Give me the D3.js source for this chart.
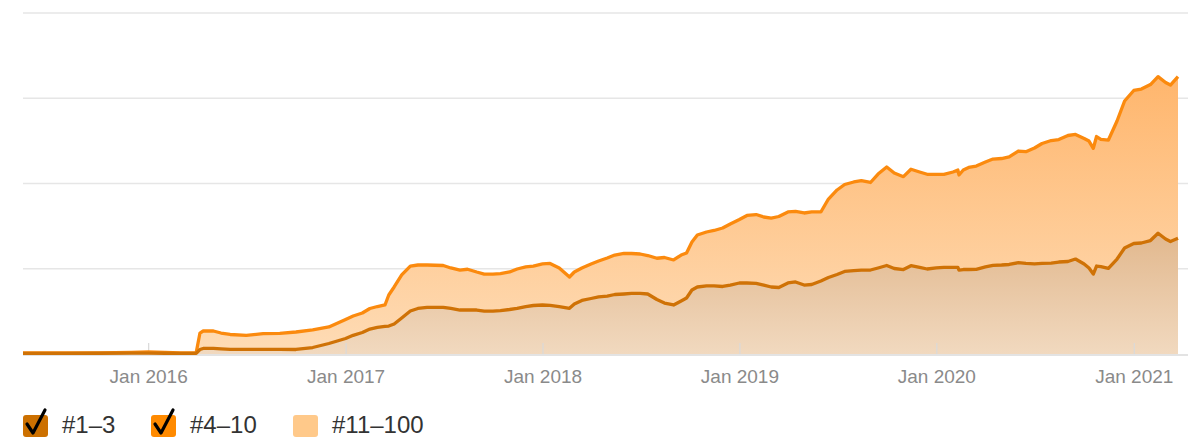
<!DOCTYPE html>
<html><head><meta charset="utf-8">
<script src="https://cdn.jsdelivr.net/npm/d3@7"></script>
<style>
body{margin:0;background:#fff;}
svg{display:block;font-family:"Liberation Sans",Arial,Helvetica,sans-serif;}
</style>
</head><body>
<svg id="c" width="1188" height="447"></svg>
<script>
// ---- data ----
const dates = [
"2015-05-14","2015-06-15","2015-08-01","2015-10-01","2015-12-01","2016-01-01","2016-02-01","2016-03-01","2016-03-30","2016-04-06",
"2016-04-12","2016-05-01","2016-05-15","2016-06-01","2016-07-01","2016-08-01","2016-09-01","2016-10-01","2016-11-01","2016-12-01",
"2017-01-01","2017-01-15","2017-02-01","2017-02-15","2017-03-01","2017-03-15","2017-03-22","2017-04-01","2017-04-15","2017-05-01",
"2017-05-15","2017-06-01","2017-07-01","2017-07-15","2017-08-01","2017-08-15","2017-09-01","2017-09-15","2017-10-01","2017-10-15",
"2017-11-01","2017-11-15","2017-12-01","2017-12-15","2018-01-01","2018-01-15","2018-02-01","2018-02-20","2018-03-01","2018-03-15",
"2018-04-01","2018-04-15","2018-05-01","2018-05-15","2018-06-01","2018-06-15","2018-07-01","2018-07-15","2018-08-01","2018-08-15",
"2018-09-01","2018-09-15","2018-09-25","2018-10-05","2018-10-15","2018-11-01","2018-11-15","2018-12-01","2018-12-15","2019-01-01",
"2019-01-15","2019-02-01","2019-02-15","2019-03-01","2019-03-15","2019-04-01","2019-04-15","2019-05-01","2019-05-15","2019-06-01",
"2019-06-15","2019-07-01","2019-07-15","2019-08-01","2019-08-15","2019-09-01","2019-09-15","2019-10-01","2019-10-15","2019-11-01",
"2019-11-15","2019-12-01","2019-12-15","2020-01-01","2020-01-15","2020-02-01","2020-02-10","2020-02-12","2020-02-20","2020-03-01",
"2020-03-15","2020-04-01","2020-04-15","2020-05-01","2020-05-15","2020-06-01","2020-06-15","2020-07-01","2020-07-15","2020-08-01",
"2020-08-15","2020-09-01","2020-09-15","2020-10-01","2020-10-10","2020-10-18","2020-10-24","2020-11-01","2020-11-15","2020-12-01",
"2020-12-15","2021-01-01","2021-01-15","2021-02-01","2021-02-15","2021-03-01","2021-03-10","2021-03-24"
];
// keywords ranking #1–3
const top3 = [
8,8,8,9,10,10,9,8,8,53,
65,67,61,55,55,55,55,53,76,123,
182,219,252,293,313,325,328,352,422,504,
534,548,548,534,516,516,516,504,504,510,
522,534,557,569,575,571,555,536,586,628,
651,669,680,698,704,710,712,704,639,598,
575,622,657,751,786,798,798,792,809,833,
833,829,809,786,780,833,845,809,815,856,
897,933,968,979,985,985,1009,1038,1003,991,
1036,1015,997,1009,1017,1017,1017,985,991,991,
993,1021,1040,1044,1050,1071,1062,1056,1062,1067,
1079,1085,1114,1056,1009,938,1032,1026,1005,1114,
1243,1296,1302,1331,1416,1349,1320,1357
];
// keywords ranking #4–10
const top4to10 = [
4,4,5,5,10,15,11,6,6,193,
205,203,185,174,164,183,188,205,206,194,
223,227,229,241,244,250,364,434,505,528,
510,496,490,475,469,478,446,434,434,434,
440,463,464,463,481,491,454,367,376,381,
405,422,446,463,477,469,461,451,484,534,
528,539,528,563,610,633,651,686,716,745,
792,807,798,809,833,833,827,845,851,810,
921,991,1020,1039,1048,1027,1102,1155,1120,1089,
1131,1120,1111,1099,1091,1118,1141,1115,1167,1197,
1212,1231,1247,1249,1261,1310,1311,1360,1407,1437,
1437,1478,1461,1472,1489,1475,1519,1492,1505,1619,
1725,1795,1806,1830,1837,1836,1835,1896
];
const yTicks = [0, 1000, 2000, 3000, 4000];
const xTickDates = ["2016-01-01","2017-01-01","2018-01-01","2019-01-01","2020-01-01","2021-01-01"];
const legendLabels = ["#1–3", "#4–10", "#11–100"];
const legendChecked = [true, true, false];

// ---- drawing ----
const W = 1188, H = 447;
const svg = d3.select("#c");
const parse = d3.timeParse("%Y-%m-%d");
const rows = dates.map((d, i) => ({date: parse(d), top3: top3[i], top4to10: top4to10[i]}));

const x = d3.scaleTime().domain([rows[0].date, rows[rows.length - 1].date]).range([23, 1178]);
const y = d3.scaleLinear().domain([0, 4000]).range([354, 13]);

const defs = svg.append("defs");
function grad(id, c0, c1) {
  const g = defs.append("linearGradient").attr("id", id)
    .attr("gradientUnits", "userSpaceOnUse").attr("x1", 0).attr("x2", 0)
    .attr("y1", y(4000)).attr("y2", y(0));
  g.append("stop").attr("offset", 0).attr("stop-color", c0);
  g.append("stop").attr("offset", 1).attr("stop-color", c1);
}
grad("gBand", "#ffad5c", "#fedcb6");
grad("gLow", "#c67c34", "#f1d9bf");

// grid lines
svg.append("g").selectAll("line").data(yTicks.filter(t => t > 0)).join("line")
  .attr("x1", 23).attr("x2", W).attr("y1", d => y(d)).attr("y2", d => y(d))
  .attr("stroke", "#e6e6e6").attr("stroke-width", 1.5);

const stack = d3.stack().keys(["top3", "top4to10"]);
const series = stack(rows);

const area = d3.area().x(d => x(d.data.date)).y0(d => y(d[0])).y1(d => y(d[1]));
svg.append("path").datum(series[1]).attr("d", area).attr("fill", "url(#gBand)");
svg.append("path").datum(series[0]).attr("d", area).attr("fill", "url(#gLow)");

// baseline
svg.append("line").attr("x1", 23).attr("x2", W).attr("y1", y(0) + 1).attr("y2", y(0) + 1)
  .attr("stroke", "#e3e3e3").attr("stroke-width", 2);

// x axis (ticks pointing up, labels below)
const xAxis = d3.axisBottom(x)
  .tickValues(xTickDates.map(parse))
  .tickFormat(d3.timeFormat("%b %Y"))
  .tickSize(-11).tickPadding(16);
const ax = svg.append("g").attr("transform", `translate(0,${y(0)})`).call(xAxis);
ax.select(".domain").remove();
ax.selectAll(".tick line").attr("stroke", "#d9d9d9").attr("stroke-width", 1.2);
ax.selectAll(".tick text").attr("fill", "#8a8a8a").style("font-size", "19px")
  .style("font-family", '"Liberation Sans", Arial, sans-serif');

const line = d3.line().x(d => x(d.data.date)).y(d => y(d[1]));
svg.append("path").datum(series[1]).attr("d", line).attr("fill", "none")
  .attr("stroke", "#fb8a0e").attr("stroke-width", 3.3).attr("stroke-linejoin", "round");
svg.append("path").datum(series[0]).attr("d", line).attr("fill", "none")
  .attr("stroke", "#cf7206").attr("stroke-width", 3.3).attr("stroke-linejoin", "round");

// legend
const legendColors = ["#cc7000", "#ff8a00", "#ffc98a"];
const legendX = [23, 151, 293];
const lg = svg.append("g");
legendLabels.forEach((lab, i) => {
  const g = lg.append("g").attr("transform", `translate(${legendX[i]},415)`);
  g.append("rect").attr("width", 25).attr("height", 22).attr("rx", 3).attr("fill", legendColors[i]);
  if (legendChecked[i]) {
    g.append("path").attr("d", "M4,9 L10,18 L22,-5").attr("fill", "none")
      .attr("stroke", "#000").attr("stroke-width", 3.2).attr("stroke-linecap", "round").attr("stroke-linejoin", "round");
  }
  g.append("text").attr("x", 39).attr("y", 18).text(lab)
    .attr("fill", "#333").style("font-size", "24px");
});
</script>
</body></html>
